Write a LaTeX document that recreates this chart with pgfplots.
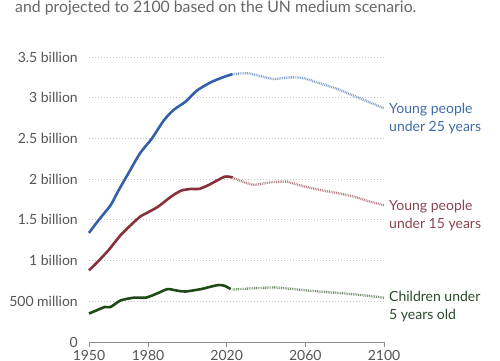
\documentclass[border=0pt]{standalone}
\usepackage{pgfplots}
\pgfplotsset{compat=1.18}
\usepackage{fontspec}
\setmainfont{Lato}
\definecolor{cblue}{HTML}{3360A9}
\definecolor{cred}{HTML}{883039}
\definecolor{cgreen}{HTML}{1F4A18}
\definecolor{cbluel}{HTML}{3E6BA8}
\definecolor{credl}{HTML}{8A4450}
\definecolor{cgreenl}{HTML}{2A4A2A}
\definecolor{tgrey}{HTML}{555555}
\definecolor{sgrey}{HTML}{666666}
\begin{document}
\begin{tikzpicture}
\begin{axis}[
  at={(89pt,-342pt)}, anchor=south west,
  scale only axis, width=295pt, height=285pt,
  xmin=1950, xmax=2100, ymin=0, ymax=3.5,
  axis lines*=left,
  y axis line style={draw=none},
  x axis line style={draw=black!45, line width=0.9pt},
  xtick={1950,1980,2020,2060,2100},
  xticklabels={1950,1980,2020,2060,2100},
  ytick={0,0.5,1,1.5,2,2.5,3,3.5},
  yticklabels={0,500 million,1 billion,1.5 billion,2 billion,2.5 billion,3 billion,3.5 billion},
  ytick style={draw=none},
  xtick style={draw=black!45, line width=0.9pt},
  tick align=outside, major tick length=5pt,
  ymajorgrids,
  grid style={draw=black!22, line width=0.9pt, dash pattern=on 1pt off 2pt},
  /pgf/number format/assume math mode=true,
  ticklabel style={font=\fontsize{14}{16}\selectfont, text=tgrey},
  yticklabel style={anchor=east, inner sep=0pt, xshift=-6pt},
  xticklabel style={anchor=north, inner sep=0pt, yshift=-3pt},
  clip=false,
]
% under 25, estimates
\addplot[cblue, line width=2.6pt, smooth, tension=0.4] coordinates {
(1950,1.34) (1955,1.50) (1961,1.68) (1965,1.86) (1970,2.07) (1976,2.32) (1982,2.50) (1988,2.72) (1993,2.85) (1999,2.95) (2005,3.09) (2012,3.19) (2018,3.25) (2023,3.29)};
% under 25, projection
\addplot[cblue!60, line width=2.4pt, dash pattern=on 0.9pt off 0.9pt, smooth, tension=0.4] coordinates {
(2023,3.29) (2031,3.30) (2038,3.26) (2044,3.23) (2052,3.25) (2059,3.24) (2067,3.18) (2076,3.11) (2084,3.03) (2092,2.95) (2100,2.87)};
% under 15, estimates
\addplot[cred, line width=2.6pt, smooth, tension=0.4] coordinates {
(1950,0.88) (1955,1.00) (1960,1.13) (1966,1.31) (1971,1.43) (1976,1.54) (1979,1.58) (1985,1.66) (1992,1.79) (1997,1.86) (2002,1.88) (2006,1.88) (2011,1.93) (2019,2.03) (2023,2.02)};
\addplot[cred!60, line width=2.4pt, dash pattern=on 0.9pt off 0.9pt, smooth, tension=0.4] coordinates {
(2023,2.02) (2028,1.97) (2034,1.93) (2042,1.96) (2050,1.97) (2058,1.92) (2067,1.87) (2076,1.83) (2084,1.79) (2092,1.73) (2100,1.68)};
% under 5, estimates
\addplot[cgreen, line width=2.6pt, smooth, tension=0.4] coordinates {
(1950,0.35) (1954,0.39) (1958,0.43) (1961,0.43) (1966,0.51) (1973,0.545) (1979,0.545) (1985,0.60) (1990,0.65) (1995,0.63) (1999,0.62) (2007,0.65) (2012,0.68) (2016,0.70) (2019,0.69) (2022,0.65)};
\addplot[cgreen!60, line width=2.4pt, dash pattern=on 0.9pt off 0.9pt, smooth, tension=0.4] coordinates {
(2023,0.645) (2034,0.66) (2045,0.67) (2056,0.645) (2067,0.62) (2078,0.60) (2089,0.575) (2100,0.545)};
\end{axis}
\begin{scope}[every node/.style={font=\fontsize{14}{18}\selectfont, anchor=west, inner sep=0pt, align=left}]
\node[text=cbluel] at (389pt,-119pt) {Young people\\under 25 years};
\node[text=credl] at (389pt,-216pt) {Young people\\under 15 years};
\node[text=cgreenl] at (389pt,-307pt) {Children under\\5 years old};
\node[text=sgrey, anchor=base west, font=\fontsize{15.8}{18}\selectfont] at (15pt,-12.5pt) {and projected to 2100 based on the UN medium scenario.};
\end{scope}
\pgfresetboundingbox
\useasboundingbox (0,0) rectangle (500pt,-360pt);
\end{tikzpicture}
\end{document}
